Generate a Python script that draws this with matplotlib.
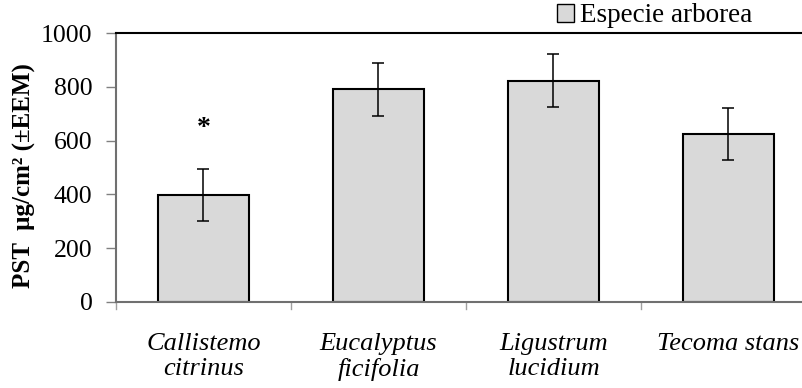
import matplotlib
matplotlib.use("Agg")
import matplotlib.pyplot as plt
from matplotlib.patches import Patch

plt.rcParams['font.family'] = ['Liberation Serif', 'DejaVu Serif']

species = ["Callistemo\ncitrinus", "Eucalyptus\nficifolia", "Ligustrum\nlucidium", "Tecoma stans"]
pst = [398, 790, 823, 625]
eem = [97, 98, 98, 97]
star_y = 645

fig = plt.figure(figsize=(8.03, 3.88), dpi=100)
# axes runs past the right edge, as in the original
ax = fig.add_axes([116 / 803, (388 - 302) / 388, 700 / 803, 269 / 388])

x = range(len(species))
ax.bar(x, pst, width=0.515, color="#d9d9d9", edgecolor="black", linewidth=1.5, zorder=2)
ax.errorbar(x, pst, yerr=eem, fmt="none", ecolor="black", elinewidth=1.1,
            capsize=4.5, capthick=1.1, zorder=3)
ax.text(0, star_y, "*", ha="center", va="center", fontsize=20, fontweight="bold")

ax.set_xlim(-0.5, len(species) - 0.5)
ax.set_ylim(0, 1000)
ax.set_yticks(range(0, 1001, 200))
ax.tick_params(axis="y", labelsize=18.5, length=7, width=1, color="#808080", pad=10)
ax.set_xticks(x)
ax.set_xticklabels(species, fontsize=19, style="italic")
ax.tick_params(axis="x", length=0, pad=22)
for b in [-0.5, 0.5, 1.5, 2.5]:
    ax.plot([b, b], [0, -25], color="#a0a0a0", lw=1, clip_on=False)

ax.spines["top"].set_color("black")
ax.spines["top"].set_linewidth(1.5)
ax.spines["left"].set_color("#707070")
ax.spines["left"].set_linewidth(1.5)
ax.spines["bottom"].set_color("#707070")
ax.spines["bottom"].set_linewidth(1.5)
ax.spines["right"].set_visible(False)

ax.set_ylabel("PST  µg/cm² (±EEM)", fontsize=18, fontweight="bold")
ax.yaxis.set_label_coords(-80 / 700, 0.47)

leg_handle = Patch(facecolor="#d9d9d9", edgecolor="black", linewidth=1)
fig.legend([leg_handle], ["Especie arborea"], loc="center", bbox_to_anchor=(655 / 803, 1 - 16 / 388),
           frameon=False, fontsize=19.5, handlelength=0.6, handleheight=0.6, handletextpad=0.25,
           borderpad=0)

fig.savefig("out.png", dpi=100)
